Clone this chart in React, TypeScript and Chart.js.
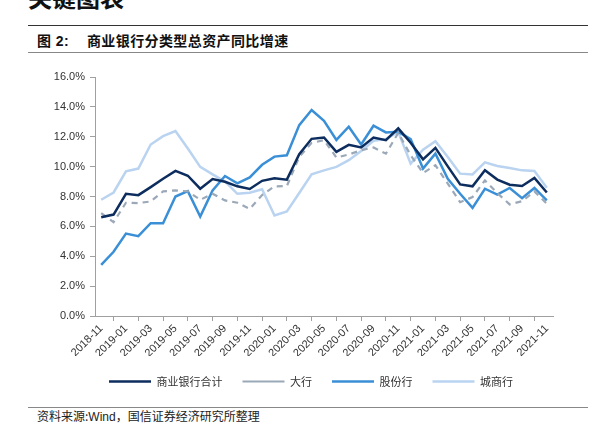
import React, { useEffect, useRef } from "react";
import { Chart, registerables } from "chart.js";

Chart.register(...registerables);

const months: string[] = [
  "2018-11", "2018-12",
  "2019-01", "2019-02", "2019-03", "2019-04", "2019-05", "2019-06",
  "2019-07", "2019-08", "2019-09", "2019-10", "2019-11", "2019-12",
  "2020-01", "2020-02", "2020-03", "2020-04", "2020-05", "2020-06",
  "2020-07", "2020-08", "2020-09", "2020-10", "2020-11", "2020-12",
  "2021-01", "2021-02", "2021-03", "2021-04", "2021-05", "2021-06",
  "2021-07", "2021-08", "2021-09", "2021-10", "2021-11",
];

const totalBanks: number[] = [
  6.61, 6.79, 8.18, 8.09, 8.63, 9.19, 9.71, 9.39, 8.52, 9.17, 8.99, 8.68,
  8.5, 9.05, 9.22, 9.13, 10.83, 11.86, 11.95, 10.99, 11.46, 11.28, 11.95,
  11.77, 12.56, 11.6, 10.49, 11.26, 10.02, 8.81, 8.68, 9.75, 9.13, 8.79,
  8.7, 9.24, 8.27,
];

const bigBanks: number[] = [
  6.88, 6.28, 7.58, 7.56, 7.67, 8.34, 8.41, 8.34, 7.78, 8.18, 7.74, 7.58,
  7.17, 8.1, 8.68, 8.7, 10.65, 11.59, 11.77, 10.61, 10.81, 11.1, 11.28,
  10.87, 12.26, 10.76, 9.57, 10.09, 8.86, 7.62, 7.96, 9.08, 8.23, 7.47,
  7.69, 8.34, 7.51,
];

const jointStock: number[] = [
  3.43, 4.3, 5.52, 5.34, 6.21, 6.21, 8.0, 8.36, 6.66, 8.41, 9.37, 8.88,
  9.28, 10.12, 10.67, 10.76, 12.78, 13.79, 13.07, 11.79, 12.67, 11.48,
  12.74, 12.29, 12.33, 11.84, 9.87, 10.87, 9.19, 8.18, 7.24, 8.52, 8.12,
  8.57, 7.89, 8.57, 7.74,
];

const cityBanks: number[] = [
  7.78, 8.27, 9.69, 9.87, 11.48, 12.04, 12.38, 11.21, 9.98, 9.48, 9.01,
  8.18, 8.25, 8.48, 6.73, 7.0, 8.23, 9.48, 9.75, 9.98, 10.43, 11.05, 11.73,
  11.84, 12.33, 10.2, 11.14, 11.7, 10.65, 9.53, 9.48, 10.29, 10.04, 9.91,
  9.75, 9.71, 8.59,
];

const seriesNames: string[] = ["商业银行合计", "大行", "股份行", "城商行"];

const yTicks: number[] = [0, 2, 4, 6, 8, 10, 12, 14, 16];

const AXIS = "#a0a0a0";
const TEXT = "#333333";
const LATIN = "'Liberation Sans', Arial, sans-serif";
const CJK = "'Noto Sans CJK SC', 'Liberation Sans', sans-serif";

// shifts the legend so it is centred like the original (which ignores the right margin)
const legendShift = {
  id: "legendShift",
  afterLayout(chart: any) {
    const lg = chart.legend;
    if (!lg) return;
    const shift = chart.options.layout.padding.right / 2;
    lg.left += shift;
    lg.right += shift;
  },
};

export default function App() {
  const canvasRef = useRef<HTMLCanvasElement | null>(null);

  useEffect(() => {
    if (!canvasRef.current) return;
    const chart = new Chart(canvasRef.current, {
      type: "line",
      plugins: [legendShift],
      data: {
        labels: months,
        datasets: [
          {
            label: seriesNames[0],
            data: totalBanks,
            borderColor: "#0c2d5e",
            backgroundColor: "#0c2d5e",
            borderWidth: 2.5,
          },
          {
            label: seriesNames[1],
            data: bigBanks,
            borderColor: "#9aa8b8",
            backgroundColor: "#9aa8b8",
            borderWidth: 2.2,
            borderDash: [6, 5],
          },
          {
            label: seriesNames[2],
            data: jointStock,
            borderColor: "#3a8fd6",
            backgroundColor: "#3a8fd6",
            borderWidth: 2.5,
          },
          {
            label: seriesNames[3],
            data: cityBanks,
            borderColor: "#b9d3f0",
            backgroundColor: "#b9d3f0",
            borderWidth: 2.5,
          },
        ],
      },
      options: {
        animation: false,
        responsive: false,
        maintainAspectRatio: false,
        devicePixelRatio: 1,
        elements: {
          point: { radius: 0, hoverRadius: 0 },
          line: { tension: 0, borderCapStyle: "butt", borderJoinStyle: "miter" },
        },
        layout: { padding: { top: 17, right: 47, left: 0, bottom: 0 } },
        plugins: {
          tooltip: { enabled: false },
          legend: {
            position: "bottom",
            labels: {
              usePointStyle: true,
              pointStyle: "line",
              pointStyleWidth: 42,
              boxHeight: 6,
              padding: 20,
              color: TEXT,
              font: { family: CJK, size: 11 },
            },
          },
        },
        scales: {
          x: {
            type: "category",
            offset: true,
            border: { color: AXIS, width: 1 },
            grid: {
              offset: true,
              drawOnChartArea: false,
              drawTicks: true,
              tickLength: 5,
              color: AXIS,
            },
            ticks: {
              autoSkip: false,
              maxRotation: 45,
              minRotation: 45,
              padding: 1,
              color: TEXT,
              font: { family: LATIN, size: 11 },
              callback: function (_v: any, i: number) {
                return i % 2 === 0 ? months[i] : null;
              },
            },
            afterFit: (scale: any) => {
              scale.height = 40;
            },
          },
          y: {
            min: yTicks[0],
            max: yTicks[yTicks.length - 1],
            border: { color: AXIS, width: 1 },
            grid: {
              drawOnChartArea: false,
              drawTicks: true,
              tickLength: 5,
              color: AXIS,
            },
            afterBuildTicks: (scale: any) => {
              scale.ticks = yTicks.map((v) => ({ value: v }));
            },
            ticks: {
              padding: 5,
              color: TEXT,
              font: { family: LATIN, size: 11 },
              callback: (v: any) => Number(v).toFixed(1) + "%",
            },
            afterFit: (scale: any) => {
              scale.width = 73;
            },
          },
        },
      },
    });
    return () => chart.destroy();
  }, []);

  return (
    <div
      style={{
        position: "fixed",
        left: 0,
        top: 0,
        width: 600,
        height: 447,
        background: "#ffffff",
        overflow: "hidden",
        fontFamily: CJK,
      }}
    >
      <div
        style={{
          position: "absolute",
          left: 28,
          top: -15,
          fontSize: 24,
          lineHeight: "24px",
          fontWeight: 700,
          color: "#111",
          whiteSpace: "nowrap",
        }}
      >
        关键图表
      </div>
      <div
        style={{
          position: "absolute",
          left: 28,
          top: 25,
          width: 560,
          height: 0,
          borderTop: "1.5px solid #333",
        }}
      />
      <div
        style={{
          position: "absolute",
          left: 37,
          top: 31,
          fontSize: 14,
          lineHeight: "18px",
          fontWeight: 700,
          color: "#111",
          whiteSpace: "nowrap",
          letterSpacing: 0.4,
        }}
      >
        <span style={{ fontFamily: LATIN, fontWeight: 700 }}>
          <span style={{ fontFamily: CJK }}>图</span> 2:
        </span>
        <span style={{ marginLeft: 18 }}>商业银行分类型总资产同比增速</span>
      </div>
      <div
        style={{
          position: "absolute",
          left: 28,
          top: 52,
          width: 560,
          height: 0,
          borderTop: "1.5px solid #888",
        }}
      />
      <canvas
        ref={canvasRef}
        width={578}
        height={337}
        style={{ position: "absolute", left: 22, top: 60, width: 578, height: 337 }}
      />
      <div
        style={{
          position: "absolute",
          left: 28,
          top: 407,
          width: 560,
          height: 0,
          borderTop: "1.5px solid #888",
        }}
      />
      <div
        style={{
          position: "absolute",
          left: 37,
          top: 408,
          fontSize: 12,
          lineHeight: "15px",
          color: "#222",
          whiteSpace: "nowrap",
        }}
      >
        资料来源:<span style={{ fontFamily: LATIN }}>Wind</span>，国信证券经济研究所整理
      </div>
    </div>
  );
}
